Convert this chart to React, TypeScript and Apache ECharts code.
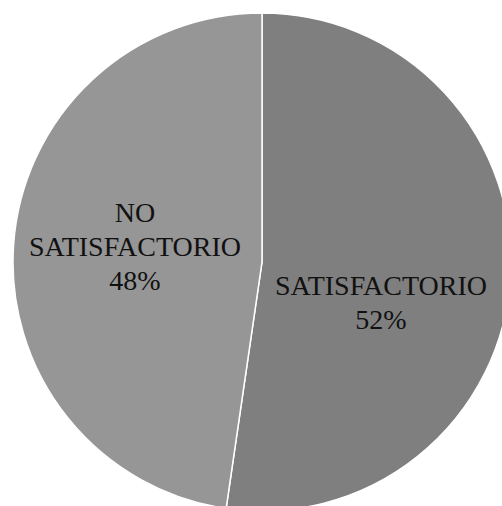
import React, { useEffect, useRef } from "react";
import * as echarts from "echarts";

const categories = ["SATISFACTORIO", "NO SATISFACTORIO"];
const values = [52.3, 47.7];
const colors = ["#7f7f7f", "#969696"];
const labelLines = [["SATISFACTORIO"], ["NO", "SATISFACTORIO"]];

export default function App() {
  const ref = useRef<HTMLDivElement>(null);
  useEffect(() => {
    if (!ref.current) return;
    const chart = echarts.init(ref.current, undefined, { renderer: "svg" });
    const total = values.reduce((a, b) => a + b, 0);
    const pct = values.map((v) => Math.round((v / total) * 100));
    const labelPos = [
      [381, 302],
      [135, 246],
    ];
    chart.setOption({
      animation: false,
      backgroundColor: "#ffffff",
      graphic: categories.map((c, i) => ({
        type: "text",
        x: labelPos[i][0],
        y: labelPos[i][1],
        z: 100,
        silent: true,
        style: {
          text: [...labelLines[i], `${pct[i]}%`].join("\n"),
          font: "28px 'Liberation Serif'",
          lineHeight: 34,
          textAlign: "center",
          textVerticalAlign: "middle",
          fill: "#111111",
        },
      })),
      series: [
        {
          type: "pie",
          center: [262, 262],
          radius: 249,
          startAngle: 90,
          clockwise: true,
          data: categories.map((c, i) => ({
            name: c,
            value: values[i],
            itemStyle: { color: colors[i] },
          })),
          itemStyle: { borderColor: "#ffffff", borderWidth: 1.5 },
          label: { show: false },
          labelLine: { show: false },
          emphasis: { disabled: true },
        },
      ],
    });
    return () => chart.dispose();
  }, []);
  return (
    <div
      ref={ref}
      style={{ position: "fixed", left: 0, top: 0, width: 502, height: 506 }}
    />
  );
}
